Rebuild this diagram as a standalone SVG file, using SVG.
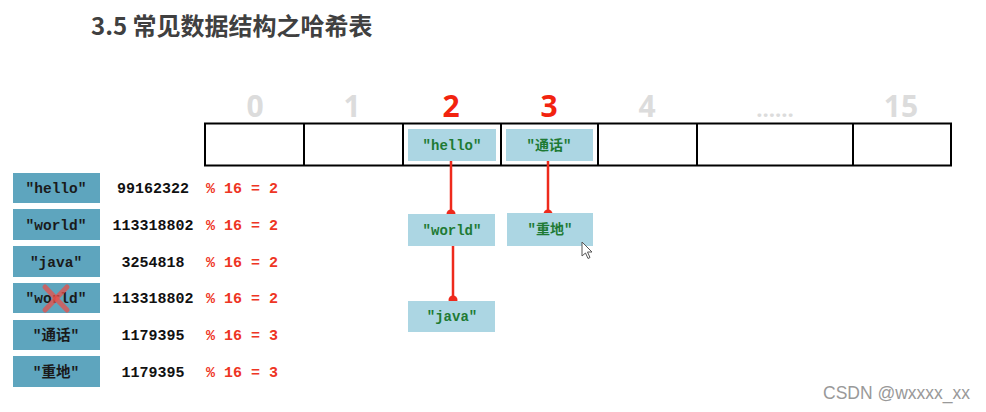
<svg xmlns="http://www.w3.org/2000/svg" width="986" height="412" viewBox="0 0 986 412">
<style>
.title{font-family:"Noto Sans CJK SC","Noto Sans",sans-serif;font-weight:bold;font-size:24px;fill:#404040}
.idx{font-family:"Open Sans","Noto Sans",sans-serif;font-weight:bold;font-size:30px;fill:#dcdcdc;text-anchor:middle}
.idxr{fill:#f2230f}
.mono{font-family:"Liberation Mono","Noto Sans CJK SC",monospace;font-weight:bold;text-anchor:middle}
.key{font-size:14.5px;fill:#1a1a1a}
.cell{font-size:14px;fill:#1e7a34}
.num{font-size:15px;fill:#111}
.mod{font-size:15px;fill:#ee3524;text-anchor:start}
.kbox{fill:#5ea5be}
.cbox{fill:#acd6e3}
.link{stroke:#ee2a1c;stroke-width:2.5;fill:none}
.dot{fill:#ee2a1c}
</style>
<rect width="986" height="412" fill="#ffffff"/>
<text class="title" x="91" y="35">3.5 常见数据结构之哈希表</text>

<g id="indices">
<text class="idx" x="255" y="117">0</text>
<text class="idx" x="352" y="117">1</text>
<text class="idx idxr" x="451" y="117">2</text>
<text class="idx idxr" x="549" y="117">3</text>
<text class="idx" x="647" y="117">4</text>
<text class="idx" x="775" y="117" style="font-size:22px">......</text>
<text class="idx" x="901" y="117">15</text>
</g>

<g id="array" fill="none" stroke="#000" stroke-width="2">
<rect x="205" y="123.5" width="746" height="42"/>
<line x1="304" y1="123.5" x2="304" y2="165.5"/>
<line x1="403" y1="123.5" x2="403" y2="165.5"/>
<line x1="501" y1="123.5" x2="501" y2="165.5"/>
<line x1="598" y1="123.5" x2="598" y2="165.5"/>
<line x1="697" y1="123.5" x2="697" y2="165.5"/>
<line x1="853" y1="123.5" x2="853" y2="165.5"/>
</g>

<g id="connectors">
<line class="link" x1="451" y1="161" x2="451" y2="214"/>
<circle class="dot" cx="451" cy="214" r="4.5"/>
<line class="link" x1="548" y1="161" x2="548" y2="214"/>
<circle class="dot" cx="548" cy="214" r="4.5"/>
<line class="link" x1="453" y1="246" x2="453" y2="300"/>
<circle class="dot" cx="453" cy="300" r="4.5"/>
</g>

<g id="cell-hello"><rect class="cbox" x="408" y="129" width="88" height="32"/><text class="mono cell" x="452" y="150">"hello"</text></g>
<g id="cell-tonghua"><rect class="cbox" x="506" y="129" width="87" height="32"/><text class="mono cell" x="549" y="150">"通话"</text></g>
<g id="cell-world"><rect class="cbox" x="408" y="214" width="87" height="32"/><text class="mono cell" x="452" y="235">"world"</text></g>
<g id="cell-zhongdi"><rect class="cbox" x="507" y="213" width="86" height="33"/><text class="mono cell" x="550" y="234">"重地"</text></g>
<g id="cell-java"><rect class="cbox" x="408" y="301" width="87" height="31"/><text class="mono cell" x="452" y="321">"java"</text></g>

<g id="row1"><rect class="kbox" x="13" y="173" width="87" height="30"/><text class="mono key" x="56" y="193">"hello"</text><text class="mono num" x="153" y="193">99162322</text><text class="mono mod" x="206" y="193">% 16 = 2</text></g>
<g id="row2"><rect class="kbox" x="13" y="209" width="87" height="31"/><text class="mono key" x="56" y="230">"world"</text><text class="mono num" x="153" y="230">113318802</text><text class="mono mod" x="206" y="230">% 16 = 2</text></g>
<g id="row3"><rect class="kbox" x="13" y="246" width="87" height="31"/><text class="mono key" x="56" y="267">"java"</text><text class="mono num" x="153" y="267">3254818</text><text class="mono mod" x="206" y="267">% 16 = 2</text></g>
<g id="row4"><rect class="kbox" x="13" y="283" width="87" height="30"/><text class="mono key" x="56" y="303">"world"</text><text class="mono num" x="153" y="303">113318802</text><text class="mono mod" x="206" y="303">% 16 = 2</text>
<g stroke="#e8504a" stroke-opacity="0.75" stroke-width="5" stroke-linecap="round"><line x1="45" y1="287" x2="67" y2="310"/><line x1="67" y1="287" x2="45" y2="310"/></g></g>
<g id="row5"><rect class="kbox" x="13" y="320" width="87" height="30"/><text class="mono key" x="56" y="340">"通话"</text><text class="mono num" x="153" y="340">1179395</text><text class="mono mod" x="206" y="340">% 16 = 3</text></g>
<g id="row6"><rect class="kbox" x="13" y="356" width="87" height="31"/><text class="mono key" x="56" y="377">"重地"</text><text class="mono num" x="153" y="377">1179395</text><text class="mono mod" x="206" y="377">% 16 = 3</text></g>

<path d="M582 242 L582 256 L585.5 253 L588 258.5 L590 257.5 L587.5 252 L592 252 Z" fill="#fff" stroke="#555" stroke-width="1"/>

<text x="823" y="399" style="font-family:'Liberation Sans',Arial,sans-serif;font-size:17.5px;fill:#999">CSDN @wxxxx_xx</text>
</svg>
